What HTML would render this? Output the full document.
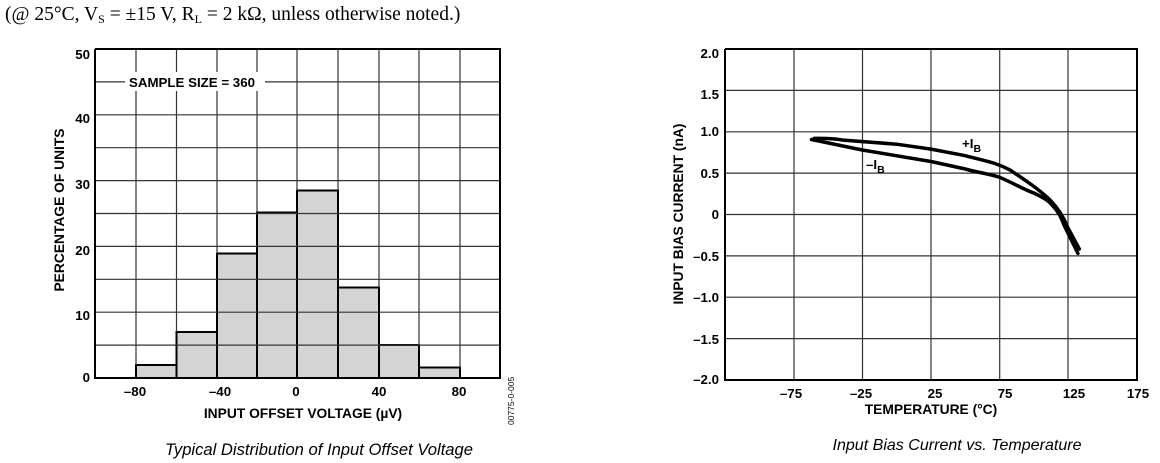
<!DOCTYPE html>
<html><head><meta charset="utf-8"><style>
html,body{margin:0;padding:0;background:#fff;}
svg{display:block;}
</style></head><body>
<svg width="1160" height="463" xmlns="http://www.w3.org/2000/svg">
<text x="5" y="20" font-family="Liberation Serif, serif" font-size="19.5" fill="#000">(@ 25°C, V<tspan font-size="12" dy="3">S</tspan><tspan dy="-3"> = ±15 V, R</tspan><tspan font-size="12" dy="3">L</tspan><tspan dy="-3"> = 2 kΩ, unless otherwise noted.)</tspan></text>

<!-- Left chart -->
<g fill="#d4d4d4" stroke="#000" stroke-width="2">
<rect x="136" y="365" width="40.5" height="13"/>
<rect x="176.5" y="332" width="40.5" height="46"/>
<rect x="217" y="253.5" width="40" height="124.5"/>
<rect x="257" y="212.5" width="40" height="165.5"/>
<rect x="297" y="190.5" width="41" height="187.5"/>
<rect x="338" y="287.5" width="41" height="90.5"/>
<rect x="379" y="345" width="40" height="33"/>
<rect x="419" y="367.5" width="41" height="10.5"/>
</g>
<g stroke="#333" stroke-width="1.2" fill="none">
<path d="M136 49V365M176.5 49V332M217 49V253.5M257 49V212.5M297 49V190.5M338 49V190.5M379 49V287.5M419 49V345M460 49V367.5"/>
<path d="M95 81.9H500M95 114.8H500M95 147.7H500M95 180.6H500M95 213.5H500M95 246.4H500M95 279.3H500M95 312.2H500M95 345.1H500"/>
</g>
<path d="M95 49V378H500V49H95" stroke="#000" stroke-width="2" fill="none"/>
<rect x="125" y="72" width="140" height="19" fill="#fff"/>
<text x="129" y="87" font-family="Liberation Sans, sans-serif" font-weight="bold" font-size="13.3">SAMPLE SIZE = 360</text>
<g font-family="Liberation Sans, sans-serif" font-weight="bold" font-size="13.3" text-anchor="end">
<text x="90" y="59">50</text><text x="90" y="123">40</text><text x="90" y="189">30</text><text x="90" y="255">20</text><text x="90" y="320">10</text><text x="90" y="382">0</text>
</g>
<g font-family="Liberation Sans, sans-serif" font-weight="bold" font-size="13.3" text-anchor="middle">
<text x="135" y="396">–80</text><text x="220" y="396">–40</text><text x="296" y="396">0</text><text x="379" y="396">40</text><text x="459" y="396">80</text>
<text x="303" y="418" font-size="13.8">INPUT OFFSET VOLTAGE (µV)</text>
<text transform="translate(64,210) rotate(-90)" font-size="13.8">PERCENTAGE OF UNITS</text>
</g>
<text transform="translate(514,425) rotate(-90)" font-family="Liberation Sans, sans-serif" font-size="8.5">00775-0-005</text>
<text x="319" y="455" text-anchor="middle" font-family="Liberation Sans, sans-serif" font-style="italic" font-size="16.3" textLength="308" lengthAdjust="spacingAndGlyphs">Typical Distribution of Input Offset Voltage</text>

<!-- Right chart -->
<g stroke="#333" stroke-width="1.2" fill="none">
<path d="M794 49V380M862.5 49V380M931 49V380M999.7 49V380M1068 49V380"/>
<path d="M725 90.4H1137M725 131.8H1137M725 173.1H1137M725 214.5H1137M725 255.9H1137M725 297.2H1137M725 338.6H1137"/>
</g>
<path d="M725 49V380H1137V49H725" stroke="#000" stroke-width="2" fill="none"/>
<g stroke="#000" stroke-width="3.5" fill="none" stroke-linecap="round">
<path d="M814.3 138.4 C830 138 840 139.5 841.7 140 L896.7 144.2 L931 149.1 L965.3 155.7 C985 161 995 162 1010 170 C1025 180 1040 190 1050 200 C1058 208 1064 218 1068 228 L1079.3 249"/>
<path d="M811.5 139.5 L862.3 150 L931 161.5 L965.3 169 C980 173 990 174 999.7 177.3 C1015 184 1025 190 1033.9 193 C1042 197 1048 200 1052 205 C1058 211 1061 217 1064 225 L1077.9 253.4"/>
</g>
<g font-family="Liberation Sans, sans-serif" font-weight="bold" font-size="13.3">
<text x="962" y="148">+I<tspan font-size="10.5" dy="4">B</tspan></text>
<text x="866" y="169">–I<tspan font-size="10.5" dy="4">B</tspan></text>
</g>
<g font-family="Liberation Sans, sans-serif" font-weight="bold" font-size="13.3" text-anchor="end">
<text x="719" y="58">2.0</text><text x="719" y="99">1.5</text><text x="719" y="136">1.0</text><text x="719" y="178">0.5</text><text x="719" y="219">0</text><text x="719" y="261">–0.5</text><text x="719" y="302">–1.0</text><text x="719" y="344">–1.5</text><text x="719" y="384">–2.0</text>
</g>
<g font-family="Liberation Sans, sans-serif" font-weight="bold" font-size="13.3" text-anchor="middle">
<text x="791" y="398">–75</text><text x="861" y="398">–25</text><text x="935" y="398">25</text><text x="1005" y="398">75</text><text x="1074" y="398">125</text><text x="1138" y="398">175</text>
<text x="931" y="414" font-size="13.8">TEMPERATURE (°C)</text>
<text transform="translate(683,214) rotate(-90)" font-size="13.8">INPUT BIAS CURRENT (nA)</text>
</g>
<text x="957" y="450" text-anchor="middle" font-family="Liberation Sans, sans-serif" font-style="italic" font-size="16" textLength="249" lengthAdjust="spacingAndGlyphs">Input Bias Current vs. Temperature</text>
</svg>
</body></html>
